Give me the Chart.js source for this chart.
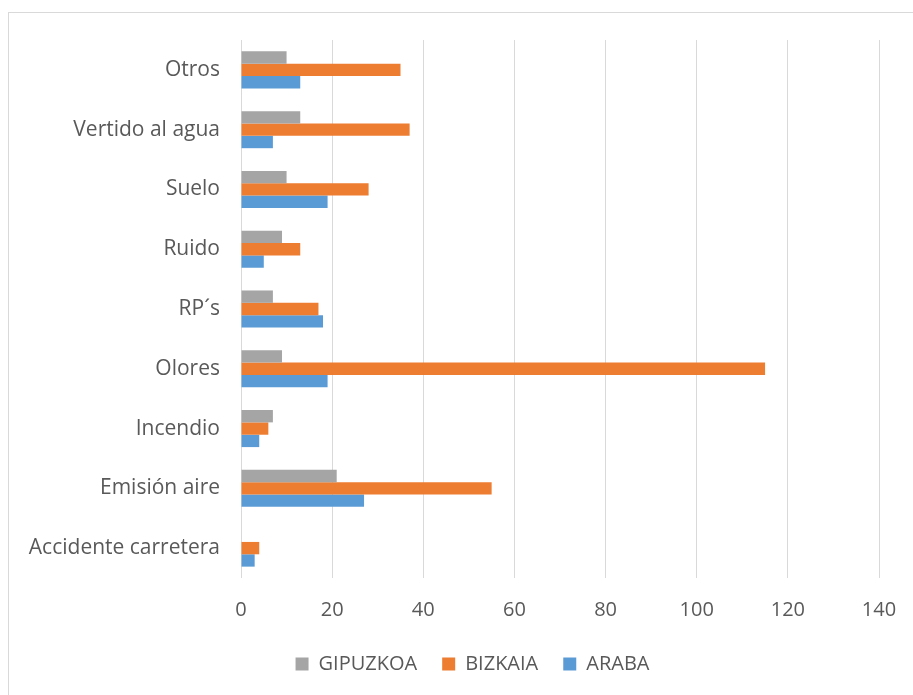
<!DOCTYPE html>
<html>
<head>
<meta charset="utf-8">
<script src="https://cdn.jsdelivr.net/npm/chart.js@4/dist/chart.umd.min.js"></script>
<style>
  html, body { margin: 0; padding: 0; background: #fff; overflow: hidden; width: 913px; height: 695px; position: relative; }
  #frame { position: absolute; left: 8px; top: 12px; width: 1000px; height: 800px; border: 1px solid #D9D9D9; box-sizing: border-box; }
  #wrap { position: absolute; left: 0; top: 0; width: 945px; height: 695px; }
</style>
</head>
<body>
<div id="frame"></div>
<div id="wrap"><canvas id="c" width="945" height="695"></canvas></div>
<script>
const categories = ["Otros", "Vertido al agua", "Suelo", "Ruido", "RP\u00B4s", "Olores", "Incendio", "Emisi\u00F3n aire", "Accidente carretera"];
const gipuzkoa = [10, 13, 10, 9, 7, 9, 7, 21, 0];
const bizkaia  = [35, 37, 28, 13, 17, 115, 6, 55, 4];
const araba    = [13, 7, 19, 5, 18, 19, 4, 27, 3];
const seriesNames = ["GIPUZKOA", "BIZKAIA", "ARABA"];
const seriesColors = ["#A5A5A5", "#ED7D31", "#5B9BD5"];
const xMin = 0, xMax = 140, xStep = 20;

const family = "'Open Sans', 'Liberation Sans', sans-serif";
const textColor = "#595959";

new Chart(document.getElementById("c"), {
  type: "bar",
  data: {
    labels: categories,
    datasets: [gipuzkoa, bizkaia, araba].map((d, i) => ({
      label: seriesNames[i],
      data: d,
      backgroundColor: seriesColors[i],
      borderWidth: 0,
      barPercentage: 1,
      categoryPercentage: 0.62
    }))
  },
  options: {
    indexAxis: "y",
    responsive: false,
    animation: false,
    devicePixelRatio: 1,
    layout: { padding: { left: 0, right: 0, top: 40, bottom: 11 } },
    plugins: {
      tooltip: { enabled: false },
      legend: {
        position: "bottom",
        labels: {
          font: { family: family, size: 20 },
          color: textColor,
          boxWidth: 13,
          boxHeight: 13,
          padding: 25
        }
      }
    },
    scales: {
      x: {
        min: xMin, max: xMax,
        ticks: { stepSize: xStep, font: { family: family, size: 20 }, color: textColor, padding: 20 },
        grid: { color: "#D9D9D9", lineWidth: 1, drawTicks: false },
        border: { display: false },
        afterFit: (s) => { s.height = 51; }
      },
      y: {
        ticks: { font: { family: family, size: 21 }, color: textColor, padding: 21 },
        grid: { display: false, drawTicks: false },
        border: { display: false },
        afterFit: (s) => { s.width = 241; }
      },
      yRight: {
        type: "category",
        position: "right",
        ticks: { display: false },
        grid: { display: false, drawTicks: false },
        border: { display: false },
        afterFit: (s) => { s.width = 66; }
      }
    }
  }
});
</script>
</body>
</html>
